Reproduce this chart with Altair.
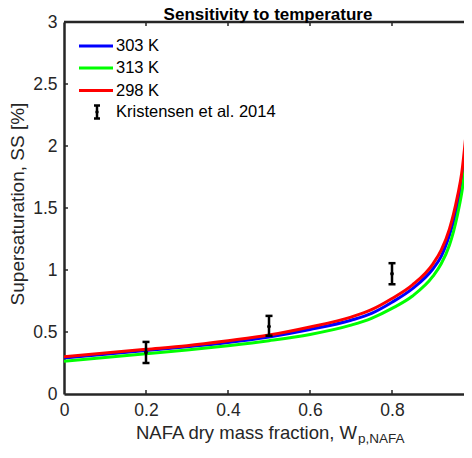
import altair as alt
import pandas as pd

# ---- data ----
w_frac = [0, 0.1, 0.2, 0.3, 0.4, 0.5, 0.6, 0.7, 0.75, 0.8, 0.85, 0.9, 0.92, 0.94, 0.95, 0.96, 0.97, 0.98, 0.99, 0.995]
ss_303 = [0.29, 0.32, 0.35, 0.38, 0.415, 0.46, 0.52, 0.595, 0.65, 0.74, 0.85, 1.01, 1.11, 1.28, 1.39, 1.53, 1.71, 1.97, 2.2, 2.45]
ss_313 = [0.265, 0.295, 0.325, 0.355, 0.39, 0.43, 0.48, 0.555, 0.61, 0.69, 0.79, 0.95, 1.05, 1.2, 1.31, 1.45, 1.62, 1.85, 2.05, 2.3]
ss_298 = [0.30, 0.33, 0.36, 0.39, 0.43, 0.475, 0.54, 0.62, 0.68, 0.77, 0.88, 1.05, 1.16, 1.33, 1.45, 1.6, 1.78, 2.08, 2.45, 2.85]
series_names = ["303 K", "313 K", "298 K"]
series_colors = ["#0000ff", "#00ff00", "#ff0000"]

obs_x = [0.2, 0.5, 0.8]
obs_y = [0.335, 0.545, 0.97]
obs_lo = [0.25, 0.47, 0.885]
obs_hi = [0.42, 0.63, 1.055]
obs_name = "Kristensen et al. 2014"

x_ticks = [0, 0.2, 0.4, 0.6, 0.8]
y_ticks = [0, 0.5, 1, 1.5, 2, 2.5, 3]

title_text = "Sensitivity to temperature"
x_title_main = "NAFA dry mass fraction, W"
x_title_sub = "p,NAFA"
y_title = "Supersaturation, SS [%]"

# ---- layout ----
W, H = 400, 372
X_MAX = 0.9756
FONT = "Liberation Sans"
AX = "#262626"

xs = alt.Scale(domain=[0, X_MAX], nice=False, zero=False)
ys = alt.Scale(domain=[0, 3], nice=False, zero=False)

x_axis = alt.Axis(values=x_ticks, format="~g", title="", grid=False, ticks=False,
                  labelPadding=7, labelFontSize=17.5, labelFlush=False,
                  domainColor=AX, domainWidth=2.5, labelColor=AX, labelFont=FONT)
y_axis = alt.Axis(values=y_ticks, format="~g", title="", grid=False, ticks=False,
                  labelPadding=7, labelFontSize=17.5, labelFlush=False,
                  domainColor=AX, domainWidth=2.5, labelColor=AX, labelFont=FONT)

layers = []

# curves
for name, vals, col in zip(series_names, [ss_303, ss_313, ss_298], series_colors):
    d = pd.DataFrame({"x": w_frac, "ss": vals})
    layers.append(alt.Chart(d).mark_line(color=col, strokeWidth=3, clip=True,
                                         interpolate="monotone").encode(
        x=alt.X("x:Q", scale=xs, axis=x_axis), y=alt.Y("ss:Q", scale=ys, axis=y_axis)))

# error bars
obs = pd.DataFrame({"x": obs_x, "y": obs_y, "lo": obs_lo, "hi": obs_hi})
ox = alt.X("x:Q", scale=xs, axis=x_axis)
layers.append(alt.Chart(obs).mark_rule(color="black", strokeWidth=2.5).encode(
    x=ox, y=alt.Y("lo:Q", scale=ys, axis=y_axis), y2="hi:Q"))
for f in ["lo", "hi"]:
    layers.append(alt.Chart(obs).mark_tick(color="black", orient="horizontal", size=7,
                                           thickness=2.5, opacity=1).encode(
        x=ox, y=alt.Y(f + ":Q", scale=ys, axis=y_axis)))
layers.append(alt.Chart(obs).mark_point(color="black", filled=True, size=14, opacity=1).encode(
    x=ox, y=alt.Y("y:Q", scale=ys, axis=y_axis)))

# inward ticks + top frame
tx = pd.DataFrame({"x": x_ticks[1:], "b0": [0] * 4, "b1": [0.033] * 4, "t0": [3] * 4, "t1": [2.967] * 4})
layers.append(alt.Chart(tx).mark_rule(color=AX, strokeWidth=1.5).encode(
    x=alt.X("x:Q", scale=xs, axis=x_axis), y=alt.Y("b0:Q", scale=ys, axis=y_axis), y2="b1:Q"))
layers.append(alt.Chart(tx).mark_rule(color=AX, strokeWidth=1.5).encode(
    x=alt.X("x:Q", scale=xs, axis=x_axis), y=alt.Y("t0:Q", scale=ys, axis=y_axis), y2="t1:Q"))
ty = pd.DataFrame({"y": y_ticks[1:-1], "a0": [0] * 5, "a1": [0.0098] * 5})
layers.append(alt.Chart(ty).mark_rule(color=AX, strokeWidth=1.5).encode(
    y=alt.Y("y:Q", scale=ys, axis=y_axis), x=alt.X("a0:Q", scale=xs, axis=x_axis), x2="a1:Q"))
top = pd.DataFrame({"y": [3], "x0": [0], "x1": [X_MAX]})
layers.append(alt.Chart(top).mark_rule(color=AX, strokeWidth=2.5).encode(
    y=alt.Y("y:Q", scale=ys, axis=y_axis), x=alt.X("x0:Q", scale=xs, axis=x_axis), x2="x1:Q"))

# chart title (centred on the full 0..1 axis span)
layers.append(alt.Chart(pd.DataFrame({"t": [title_text]})).mark_text(
    align="center", baseline="alphabetic", font=FONT, fontSize=17, fontWeight="bold",
    color="black").encode(x=alt.value(204), y=alt.value(-2.5), text="t:N"))

# y axis title
layers.append(alt.Chart(pd.DataFrame({"t": [y_title]})).mark_text(
    align="center", baseline="alphabetic", angle=270, font=FONT, fontSize=19, color=AX).encode(
    x=alt.value(-40), y=alt.value(182), text="t:N"))

# x axis title with subscript
layers.append(alt.Chart(pd.DataFrame({"t": [x_title_main]})).mark_text(
    align="right", baseline="alphabetic", font=FONT, fontSize=18.5, color=AX).encode(
    x=alt.value(293), y=alt.value(417), text="t:N"))
layers.append(alt.Chart(pd.DataFrame({"t": [x_title_sub]})).mark_text(
    align="left", baseline="alphabetic", font=FONT, fontSize=13.5, color=AX).encode(
    x=alt.value(294), y=alt.value(420.5), text="t:N"))

# legend
leg_y = [24, 46, 68.5, 90]
for name, col, ly in zip(series_names, series_colors, leg_y):
    layers.append(alt.Chart(pd.DataFrame({"t": [name]})).mark_rule(color=col, strokeWidth=3).encode(
        x=alt.value(15), x2=alt.value(49), y=alt.value(ly)))
    layers.append(alt.Chart(pd.DataFrame({"t": [name]})).mark_text(
        align="left", baseline="middle", font=FONT, fontSize=16.5, color="black").encode(
        x=alt.value(52), y=alt.value(ly), text="t:N"))
ly = leg_y[3]
gl = pd.DataFrame({"t": [obs_name]})
layers.append(alt.Chart(gl).mark_rule(color="black", strokeWidth=2.5).encode(
    x=alt.value(33), y=alt.value(ly - 6.5), y2=alt.value(ly + 6.5)))
layers.append(alt.Chart(gl).mark_rule(color="black", strokeWidth=2.5).encode(
    x=alt.value(30), x2=alt.value(36), y=alt.value(ly - 6.5)))
layers.append(alt.Chart(gl).mark_rule(color="black", strokeWidth=2.5).encode(
    x=alt.value(30), x2=alt.value(36), y=alt.value(ly + 6.5)))
layers.append(alt.Chart(gl).mark_point(color="black", filled=True, size=12, opacity=1).encode(
    x=alt.value(33), y=alt.value(ly)))
layers.append(alt.Chart(gl).mark_text(
    align="left", baseline="middle", font=FONT, fontSize=16.5, color="black").encode(
    x=alt.value(52), y=alt.value(ly), text="t:N"))

chart = alt.layer(*layers).properties(
    width=W, height=H,
    autosize=alt.AutoSizeParams(type="none"),
    padding={"left": 56, "top": 14, "right": 0, "bottom": 51},
).configure_view(stroke=None).configure(background="white")

chart.save("out.html", embed_options={"renderer": "svg", "actions": False})
